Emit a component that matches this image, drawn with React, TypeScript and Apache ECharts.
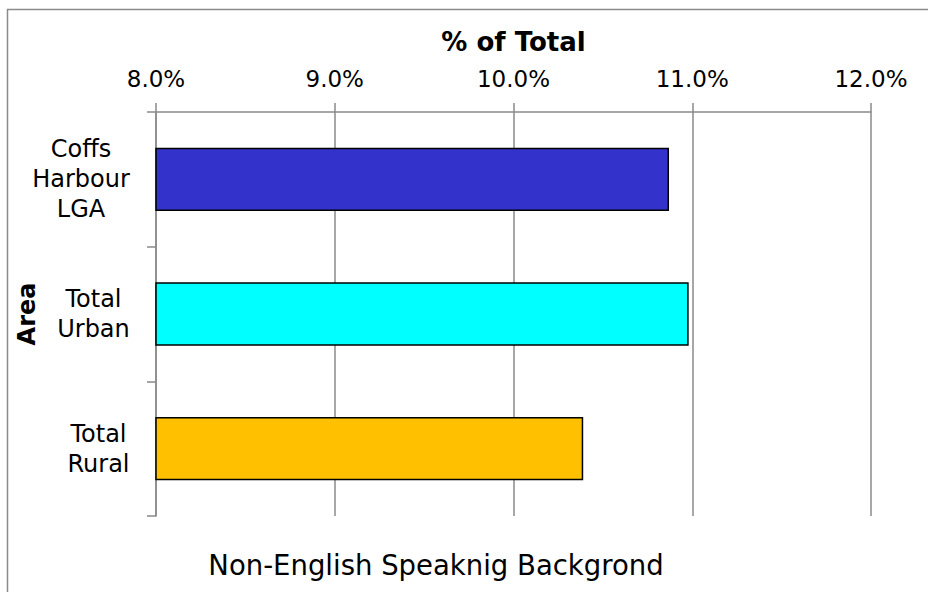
import React, { useEffect, useRef } from 'react';
import * as echarts from 'echarts';

const categories = ['Coffs Harbour LGA', 'Total Urban', 'Total Rural'];
const values = [10.87, 10.98, 10.39];
const barColors = ['#3333CC', '#00FFFF', '#FFC000'];
const xMin = 8;
const xMax = 12;
const xInterval = 1;
const xAxisTitle = '% of Total';
const yAxisTitle = 'Area';
const chartTitle = 'Non-English Speaknig Backgrond';

const FONT = '"DejaVu Sans", Verdana, sans-serif';
const CAT_SIZE = 24;

function measure(text: string, size: number): number {
  const c = document.createElement('canvas');
  const ctx = c.getContext('2d');
  if (!ctx) return text.length * size * 0.6;
  ctx.font = `${size}px "DejaVu Sans"`;
  return ctx.measureText(text).width;
}

export default function App() {
  const ref = useRef<HTMLDivElement>(null);
  useEffect(() => {
    if (!ref.current) return;
    const chart = echarts.init(ref.current, null, { renderer: 'svg' });
    const rich: Record<string, any> = {};
    categories.forEach((c, i) => {
      const w = Math.max(...c.split(' ').map((l) => measure(l, CAT_SIZE)));
      rich['c' + i] = {
        width: Math.ceil(w) + 2,
        align: 'center',
        fontSize: CAT_SIZE,
        fontFamily: FONT,
        color: '#000',
        lineHeight: 30,
      };
    });
    chart.setOption({
      animation: false,
      backgroundColor: '#fff',
      title: {
        text: chartTitle,
        left: 431,
        textAlign: 'center',
        top: 546,
        textStyle: { fontFamily: FONT, fontSize: 27.5, fontWeight: 'normal', color: '#000' },
      },
      graphic: [
        {
          type: 'rect',
          shape: { x: 7.5, y: 9.5, width: 940, height: 620 },
          style: { fill: 'none', stroke: '#8a8a8a', lineWidth: 1.5 },
          silent: true,
        },
      ],
      grid: {
        left: 156,
        right: 57,
        top: 112,
        bottom: 76,
        containLabel: false,
        outerBoundsMode: 'none',
      },
      xAxis: {
        type: 'value',
        position: 'top',
        min: xMin,
        max: xMax,
        interval: xInterval,
        name: xAxisTitle,
        nameLocation: 'middle',
        nameGap: 57,
        nameMoveOverlap: false,
        nameTextStyle: { fontFamily: FONT, fontSize: 26, fontWeight: 'bold', color: '#000' },
        axisLine: { show: true, lineStyle: { color: '#8a8a8a', width: 1.5 } },
        axisTick: { show: true, length: 9, lineStyle: { color: '#8a8a8a', width: 1.5 } },
        axisLabel: {
          margin: 22,
          fontFamily: FONT,
          fontSize: 23,
          color: '#000',
          formatter: (v: number) => v.toFixed(1) + '%',
        },
        splitLine: { show: true, lineStyle: { color: '#8a8a8a', width: 1.5 } },
      },
      yAxis: {
        type: 'category',
        inverse: true,
        data: categories,
        name: yAxisTitle,
        nameLocation: 'middle',
        nameRotate: 90,
        nameGap: 117,
        nameMoveOverlap: false,
        nameTextStyle: { fontFamily: FONT, fontSize: 24, fontWeight: 'bold', color: '#000' },
        axisLine: { show: true, lineStyle: { color: '#8a8a8a', width: 1.5 } },
        axisTick: { show: true, length: 9, lineStyle: { color: '#8a8a8a', width: 1.5 } },
        axisLabel: {
          margin: 25,
          align: 'right',
          formatter: (v: string, i: number) =>
            v.split(' ').map((l) => `{c${i}|${l}}`).join('\n'),
          rich,
        },
      },
      series: [
        {
          type: 'bar',
          data: values.map((v, i) => ({ value: v, itemStyle: { color: barColors[i] } })),
          barWidth: '47%',
          itemStyle: { borderColor: '#000', borderWidth: 1.5 },
        },
      ],
    });
    return () => chart.dispose();
  }, []);
  return (
    <div
      ref={ref}
      style={{ position: 'fixed', left: 0, top: 0, width: 928, height: 592 }}
    />
  );
}
